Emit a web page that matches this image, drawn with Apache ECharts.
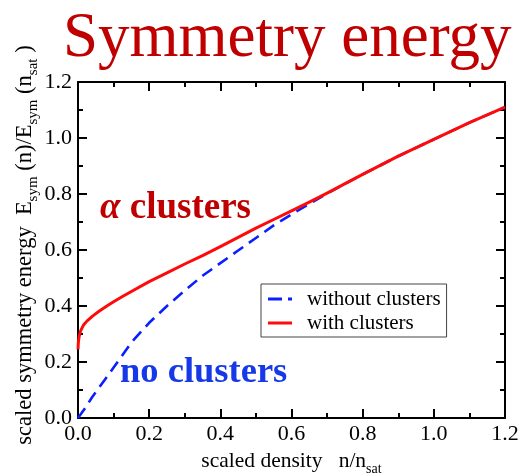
<!DOCTYPE html>
<html>
<head>
<meta charset="utf-8">
<style>
  html, body { margin: 0; padding: 0; background: #ffffff; }
  #chart { width: 519px; height: 475px; }
</style>
<script src="https://cdn.jsdelivr.net/npm/echarts@6/dist/echarts.min.js"></script>
</head>
<body>
<div id="chart"></div>
<script>
// Scaled density n/n_sat and scaled symmetry energy E_sym(n)/E_sym(n_sat)
const densityNoClusters = [0, 0.02, 0.04, 0.06, 0.08, 0.1, 0.15, 0.2, 0.25, 0.3, 0.35, 0.4, 0.45, 0.5, 0.55, 0.6, 0.65, 0.7, 0.8, 0.9, 1.0, 1.1, 1.2];
const energyNoClusters  = [0, 0.035, 0.075, 0.11, 0.145, 0.18, 0.27, 0.34, 0.40, 0.455, 0.508, 0.553, 0.598, 0.643, 0.688, 0.727, 0.765, 0.802, 0.87, 0.935, 0.995, 1.055, 1.11];

const densityClusters = [0, 0.001, 0.003, 0.007, 0.015, 0.025, 0.04, 0.06, 0.08, 0.1, 0.125, 0.15, 0.2, 0.25, 0.3, 0.35, 0.4, 0.45, 0.5, 0.55, 0.6, 0.65, 0.7, 0.8, 0.9, 1.0, 1.1, 1.2];
const energyClusters  = [0.245, 0.27, 0.29, 0.31, 0.331, 0.346, 0.363, 0.382, 0.399, 0.415, 0.434, 0.452, 0.487, 0.518, 0.55, 0.58, 0.612, 0.645, 0.678, 0.709, 0.74, 0.771, 0.803, 0.87, 0.935, 0.995, 1.055, 1.11];

const seriesNames = ['without clusters', 'with clusters'];
const xTickStep = 0.2;
const yTickStep = 0.2;

const serif = 'Liberation Serif';

function pairs(xs, ys) { return xs.map((x, i) => [x, ys[i]]); }

const chart = echarts.init(document.getElementById('chart'), null, { renderer: 'canvas' });

const frameAxis = {
  axisLine: { show: true, onZero: false, lineStyle: { color: '#000', width: 2 } },
  axisTick: { show: true, inside: true, length: 9, lineStyle: { color: '#000', width: 2 } },
  minorTick: { show: true, splitNumber: 2, length: 5, lineStyle: { color: '#000', width: 2 } },
  splitLine: { show: false },
  minorSplitLine: { show: false }
};

// Legend keys: dash + dot for the dashed curve, plain bar for the solid one
const dashDotIcon = 'path://M0,0h14v3h-14zM20,0h4v3h-4z';
const solidIcon = 'path://M0,0h24v3h-24z';

const option = {
  animation: false,
  backgroundColor: '#ffffff',
  title: {
    text: 'Symmetry energy',
    left: 58,
    top: 3,
    textStyle: { fontFamily: serif, fontSize: 63, fontWeight: 'normal', color: '#c00000' }
  },
  grid: { left: 78, right: 14, top: 82, bottom: 57, outerBoundsMode: 'none', containLabel: false },
  legend: {
    orient: 'vertical',
    left: 261,
    top: 284,
    padding: [4, 6, 3, 7],
    itemGap: 2,
    itemWidth: 24,
    itemHeight: 3,
    borderColor: '#444',
    borderWidth: 1,
    backgroundColor: '#fff',
    data: [
      { name: seriesNames[0], icon: dashDotIcon },
      { name: seriesNames[1], icon: solidIcon }
    ],
    textStyle: { fontFamily: serif, fontSize: 21, lineHeight: 22, color: '#000', padding: [0, 0, 0, 10] }
  },
  xAxis: [
    Object.assign({}, frameAxis, {
      type: 'value', min: 0, max: 1.2, interval: xTickStep, position: 'bottom',
      axisLabel: { show: true, margin: 5, fontFamily: serif, fontSize: 22, color: '#000',
        formatter: v => v.toFixed(1) },
      name: '{a|scaled density   n/n}{s|sat}',
      nameLocation: 'middle',
      nameGap: 28,
      nameTextStyle: {
        rich: {
          a: { fontFamily: serif, fontSize: 21.5, color: '#000', lineHeight: 30, verticalAlign: 'middle' },
          s: { fontFamily: serif, fontSize: 14, color: '#000', lineHeight: 14, verticalAlign: 'bottom' }
        }
      }
    }),
    Object.assign({}, frameAxis, {
      type: 'value', min: 0, max: 1.2, interval: xTickStep, position: 'top',
      axisLabel: { show: false }
    })
  ],
  yAxis: [
    Object.assign({}, frameAxis, {
      type: 'value', min: 0, max: 1.2, interval: yTickStep, position: 'left',
      axisLabel: { show: true, margin: 6, fontFamily: serif, fontSize: 22, color: '#000',
        formatter: v => v.toFixed(1) }
    }),
    Object.assign({}, frameAxis, {
      type: 'value', min: 0, max: 1.2, interval: yTickStep, position: 'right',
      axisLabel: { show: false }
    })
  ],
  graphic: [
    {
      type: 'text',
      x: 25, y: 245, rotation: Math.PI / 2,
      style: {
        text: '{a|scaled symmetry energy  E}{s|sym}{a| (n)/E}{s|sym}{a| (n}{s|sat}{a| )}',
        align: 'center', verticalAlign: 'middle',
        rich: {
          a: { fontFamily: serif, fontSize: 22.5, fill: '#000', lineHeight: 32, verticalAlign: 'middle' },
          s: { fontFamily: serif, fontSize: 15, fill: '#000', lineHeight: 15, verticalAlign: 'bottom' }
        }
      }
    },
    {
      type: 'text',
      x: 100, y: 208,
      style: {
        text: '{g|α}{t| clusters}',
        align: 'left', verticalAlign: 'middle',
        rich: {
          g: { fontFamily: serif, fontSize: 37, fontStyle: 'italic', fontWeight: 'bold', fill: '#c00000' },
          t: { fontFamily: serif, fontSize: 37, fontWeight: 'bold', fill: '#c00000' }
        }
      }
    },
    {
      type: 'text',
      x: 120, y: 373,
      style: {
        text: 'no clusters',
        align: 'left', verticalAlign: 'middle',
        fontFamily: serif, fontSize: 36.5, fontWeight: 'bold', fill: '#1538e8'
      }
    }
  ],
  series: [
    {
      name: seriesNames[0],
      type: 'line',
      xAxisIndex: 0, yAxisIndex: 0,
      data: pairs(densityNoClusters, energyNoClusters),
      showSymbol: false, symbol: 'none',
      smooth: false,
      color: '#0a1eff',
      lineStyle: { color: '#0a1eff', width: 2.6, type: [12, 7] },
      z: 2
    },
    {
      name: seriesNames[1],
      type: 'line',
      xAxisIndex: 0, yAxisIndex: 0,
      data: pairs(densityClusters, energyClusters),
      showSymbol: false, symbol: 'none',
      smooth: false,
      color: '#ff0a0a',
      lineStyle: { color: '#ff0a0a', width: 3, join: 'round' },
      z: 3
    }
  ]
};

chart.setOption(option);
</script>
</body>
</html>
